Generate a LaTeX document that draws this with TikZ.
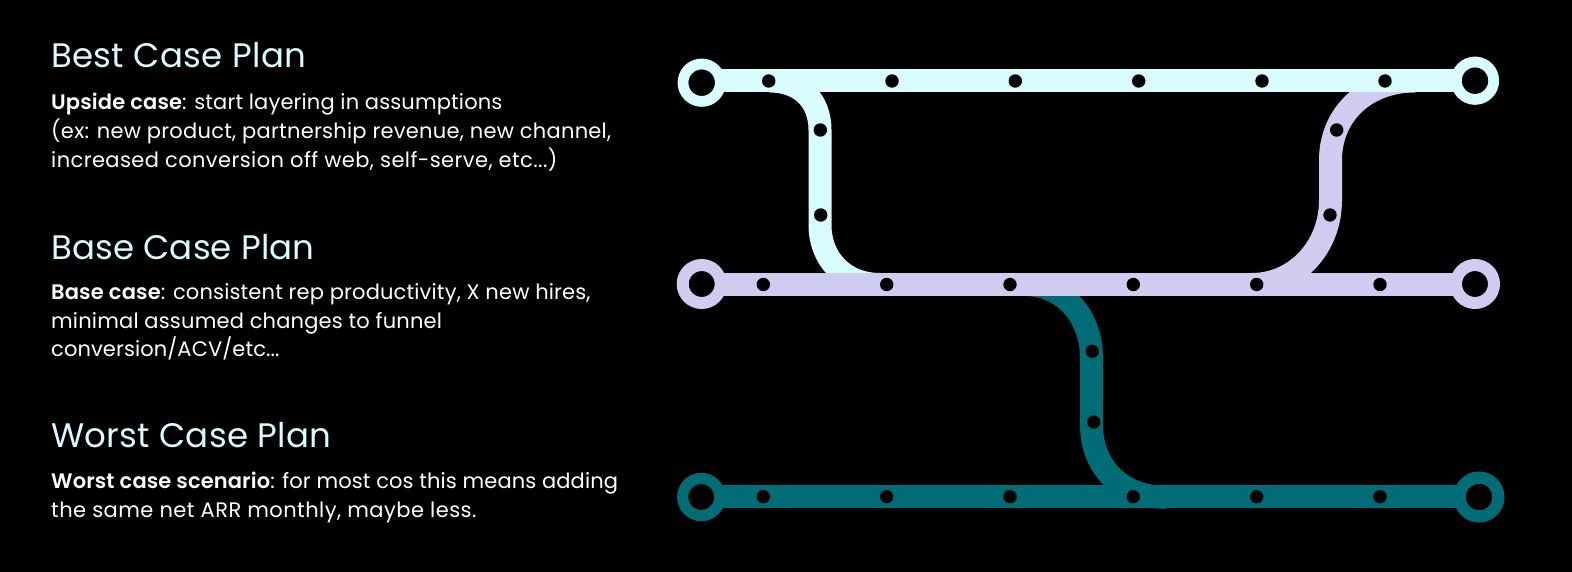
\documentclass[tikz,border=0pt]{standalone}
\usepackage{fontspec}
\setmainfont{Poppins}[UprightFont=*-Regular,BoldFont=*-SemiBold]
\newcommand\lsp[2]{\addfontfeatures{LetterSpace=#1}#2}
\definecolor{ice}{HTML}{D8FCFF}
\definecolor{lilac}{HTML}{CFCCF0}
\definecolor{teal}{HTML}{006C76}
\tikzset{
  title/.style={anchor=base west,inner sep=0,text=ice,font=\fontsize{34}{34}\selectfont},
  body/.style={anchor=base west,inner sep=0,text=white,font=\fontsize{21}{21}\selectfont},
  track/.style={line width=23pt},
  ring/.style={circle,inner sep=0,outer sep=0,minimum size=37.4pt,line width=10.8pt,fill=black},
  dot/.style={circle,inner sep=0,outer sep=0,minimum size=13.4pt,fill=black},
}
\begin{document}
\begin{tikzpicture}[x=1pt,y=-1pt]
\fill[black] (0,0) rectangle (1572,572);
\useasboundingbox (0,0) rectangle (1572,572);
% text
\node[title] (t1) at (51,67.5) {\lsp{1.05}{Best Case Plan}};
\node[body] (b1a) at (51,110) {\lsp{0.66}{\textbf{Upside case}: start layering in assumptions}};
\node[body] (b1b) at (51,139) {\lsp{1.21}{(ex: new product, partnership revenue, new channel,}};
\node[body] (b1c) at (51,167.5) {\lsp{1.98}{increased conversion off web, self-serve, etc...)}};
\node[title] (t2) at (51,259.5) {\lsp{0.42}{Base Case Plan}};
\node[body] (b2a) at (51,299) {\lsp{0.75}{\textbf{Base case}: consistent rep productivity, X new hires,}};
\node[body] (b2b) at (51,328) {\lsp{0.87}{minimal assumed changes to funnel}};
\node[body] (b2c) at (51,356) {\lsp{0.45}{conversion/ACV/etc...}};
\node[title] (t3) at (51,447.5) {\lsp{0.78}{Worst Case Plan}};
\node[body] (b3a) at (51,488.7) {\lsp{0.55}{\textbf{Worst case scenario}: for most cos this means adding}};
\node[body] (b3b) at (51,517) {\lsp{2.2}{the same net ARR monthly, maybe less.}};
% anchor points
\coordinate (bestL) at (701.7,81);
\coordinate (bestR) at (1475,81);
\coordinate (baseL) at (701.7,284.5);
\coordinate (baseR) at (1475,284.5);
\coordinate (worstL) at (701.7,496.5);
\coordinate (worstR) at (1479,496.5);
% branches
\draw[track,draw=teal] (1025,284.5) .. controls (1063,284.5) and (1091.5,316) .. (1091.5,358) -- (1091.5,425) .. controls (1091.5,466) and (1120,497.3) .. (1166,497.3);
\draw[track,draw=ice] (770,81) .. controls (800,81) and (820,100) .. (820,130) -- (820,225) .. controls (820,258) and (843,284.5) .. (880,284.5);
\draw[track,draw=lilac] (1415,81) .. controls (1365,81) and (1330.5,115) .. (1330.5,160) -- (1330.5,200) .. controls (1330.5,248) and (1295,284.5) .. (1252,284.5);
% main lines
\draw[track,draw=ice] (bestL) -- (bestR);
\draw[track,draw=ice] (1398,80.4) -- (1425,80.4);
\draw[track,draw=lilac] (baseL) -- (baseR);
\draw[track,draw=teal] (worstL) -- (worstR);
% end rings
\node[ring,draw=ice] (r1) at (701.7,82.7) {};
\node[ring,draw=ice] (r2) at (1475,80.7) {};
\node[ring,draw=lilac,minimum size=38pt,line width=12pt] (r3) at (701.7,284) {};
\node[ring,draw=lilac,minimum size=38pt,line width=12pt] (r4) at (1475,284) {};
\node[ring,draw=teal,minimum size=37.2pt,line width=11.2pt] (r5) at (701.3,497) {};
\node[ring,draw=teal,minimum size=38.8pt,line width=12.2pt] (r6) at (1479,497) {};
% stops
\foreach \x [count=\i] in {768.7,892,1015.3,1138.7,1262,1385} \node[dot] (d1\i) at (\x,81) {};
\foreach \x [count=\i] in {763.3,886.7,1010,1133.3,1256.7,1380} {
  \node[dot] (d2\i) at (\x,284.5) {};
  \node[dot] (d3\i) at (\x,496.7) {};
}
\node[dot] (v1) at (820.3,130) {};
\node[dot] (v2) at (820.7,215) {};
\node[dot] (v3) at (1336.7,130) {};
\node[dot] (v4) at (1330,215) {};
\node[dot] (v5) at (1092.3,351.3) {};
\node[dot] (v6) at (1093.7,422) {};
\end{tikzpicture}
\end{document}
